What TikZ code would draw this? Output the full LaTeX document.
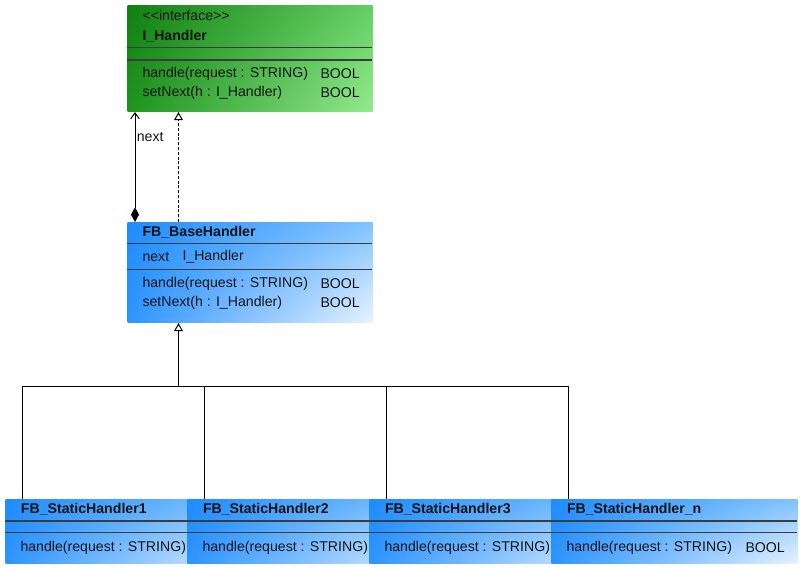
\documentclass[tikz,border=0pt]{standalone}
\usepackage{fontspec}
\setmainfont{Liberation Sans}
\usetikzlibrary{arrows.meta,shadings}

% gradient corner colours
\definecolor{gUL}{RGB}{16,128,16}
\definecolor{gUR}{RGB}{100,208,100}
\definecolor{gLL}{RGB}{30,148,30}
\definecolor{gLR}{RGB}{148,234,142}
\definecolor{bUL}{RGB}{30,140,255}
\definecolor{bUR}{RGB}{130,195,255}
\definecolor{bLL}{RGB}{45,148,255}
\definecolor{bLR}{RGB}{232,243,255}
\definecolor{rule}{RGB}{60,60,60}
\definecolor{ink}{RGB}{20,20,20}

\begin{document}
\begin{tikzpicture}[x=0.75pt,y=-0.75pt,
  line width=0.75pt,
  txt/.style={anchor=west, inner sep=0pt, text=ink, yshift=-0.75pt,
              font=\fontsize{10.6pt}{12pt}\selectfont},
  hdr/.style={txt, font=\fontsize{10.6pt}{12pt}\selectfont\bfseries},
  boxbase/.style={rectangle, anchor=north west, inner sep=0pt, draw=none},
  ifacebox/.style={boxbase, shade, upper left=gUL, upper right=gUR,
                   lower left=gLL, lower right=gLR,
                   minimum width=245*0.75pt, minimum height=106*0.75pt},
  classbox/.style={boxbase, shade, upper left=bUL, upper right=bUR,
                   lower left=bLL, lower right=bLR,
                   minimum width=245*0.75pt, minimum height=100*0.75pt},
  leafbox/.style={classbox, minimum width=246*0.75pt, minimum height=64*0.75pt},
  divider/.style={draw=rule, line width=0.9pt},
  link/.style={draw=black, line width=0.75pt},
  realize/.style={link, dash pattern=on 2.2pt off 1.4pt,
                  -{Triangle[open, length=6pt, width=6.5pt, fill=white]}},
  inherit/.style={link, -{Triangle[open, length=6pt, width=6.5pt, fill=white]}},
  navig/.style={link, {Diamond[length=11pt, width=6pt]}-{Straight Barb[length=4.5pt, width=6.5pt]}}
]
\useasboundingbox[fill=white] (0,0) rectangle (800,568);

% ---------- interface I_Handler ----------
\node[ifacebox] (ih) at (127,5) {};
\node[txt] (ihst) at (142,14) {{<}{<}interface{>}{>}};
\node[hdr] (ihname) at (142,35) {I\_Handler};
\draw[divider] (127,47.5) -- (372,47.5);
\draw[divider] (127,60) -- (372,60);
\node[txt] (ihm1) at (142,72.5) {handle(request : STRING)};
\node[txt] (ihr1) at (320,72.5) {BOOL};
\node[txt] (ihm2) at (142,92) {setNext(h : I\_Handler)};
\node[txt] (ihr2) at (320,92) {BOOL};

% ---------- FB_BaseHandler ----------
\node[classbox] (bh) at (127,222) {};
\node[hdr] (bhname) at (142,231.5) {FB\_BaseHandler};
\draw[divider] (127,243.5) -- (372,243.5);
\node[txt] (bha1) at (142,256) {next};
\node[txt] (bha2) at (182,256) {I\_Handler};
\draw[divider] (127,269.5) -- (372,269.5);
\node[txt] (bhm1) at (142,282.5) {handle(request : STRING)};
\node[txt] (bhr1) at (320,282.5) {BOOL};
\node[txt] (bhm2) at (142,302) {setNext(h : I\_Handler)};
\node[txt] (bhr2) at (320,302) {BOOL};

% ---------- concrete handlers ----------
\foreach \nm/\x/\lbl in {s1/5/FB\_StaticHandler1, s2/187/FB\_StaticHandler2,
                         s3/369/FB\_StaticHandler3, s4/551/FB\_StaticHandler\_n}{
  \node[leafbox] (\nm) at (\x,499) {};
  \node[hdr] (\nm name) at (\x+15.5,508) {\lbl};
  \draw[divider] (\x,521) -- (\x+246,521);
  \draw[divider] (\x,532.5) -- (\x+246,532.5);
  \node[txt] (\nm op) at (\x+15,546.5) {handle(request : STRING)};
}
\node[txt] (s4ret) at (745,546.5) {BOOL};

% ---------- relations ----------
% navigable composition "next"
\draw[navig] ([xshift=8*0.75pt]bh.north west) -- ([xshift=8*0.75pt]ih.south west)
  node[pos=0.78, anchor=west, txt, xshift=1pt] (nextlbl) {next};
% realization of the interface
\draw[realize] ([xshift=51.5*0.75pt]bh.north west) -- ([xshift=51.5*0.75pt]ih.south west);
% generalization tree
\coordinate (bus) at (178.5,386);
\draw[inherit] (bus) -- ([xshift=51.5*0.75pt]bh.south west);
\foreach \nm in {s1,s2,s3,s4}{
  \draw[link] ([xshift=17*0.75pt]\nm.north west) |- (bus);
}
\end{tikzpicture}
\end{document}
